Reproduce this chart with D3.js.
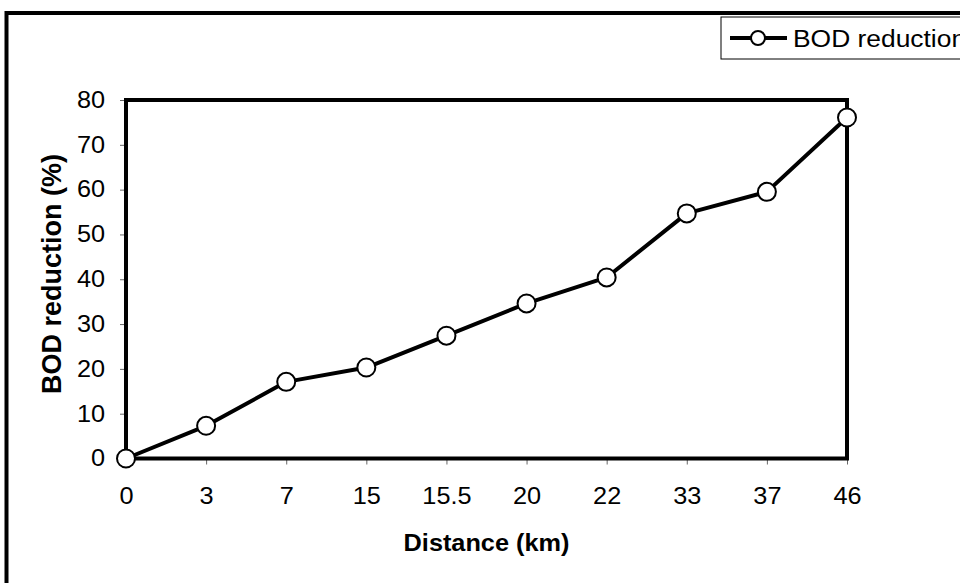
<!DOCTYPE html>
<html>
<head>
<meta charset="utf-8">
<script src="https://cdn.jsdelivr.net/npm/d3@7"></script>
<style>
  html, body { margin: 0; padding: 0; background: #fff; }
  svg { display: block; font-family: "Liberation Sans", Arial, sans-serif; }
</style>
</head>
<body>
<svg id="chart" width="960" height="583"></svg>
<script>
const categories = ["0", "3", "7", "15", "15.5", "20", "22", "33", "37", "46"];
const bodReduction = [0, 7.3, 17.1, 20.3, 27.4, 34.6, 40.4, 54.7, 59.5, 76.1];
const yTicks = [0, 10, 20, 30, 40, 50, 60, 70, 80];
const seriesName = "BOD reduction";
const xTitle = "Distance (km)";
const yTitle = "BOD reduction (%)";

const svg = d3.select("#chart");
const W = 960, H = 583;
const plot = { left: 126, right: 847, top: 100, bottom: 458.5 };
const SX = 1.1; // horizontal stretch of the text, as in the original export

svg.append("rect").attr("width", W).attr("height", H).attr("fill", "#fff");

// outer frame (extends past canvas on right/bottom)
svg.append("rect")
  .attr("x", 6.5).attr("y", 13)
  .attr("width", 1100).attr("height", 1100)
  .attr("fill", "none").attr("stroke", "#000").attr("stroke-width", 4);

const x = d3.scalePoint().domain(categories).range([plot.left, plot.right]).padding(0);
const y = d3.scaleLinear().domain([0, 80]).range([plot.bottom, plot.top]);

// axes
const xAxis = d3.axisBottom(x).tickSizeInner(6).tickSizeOuter(0).tickPadding(23);
const gx = svg.append("g").attr("transform", `translate(0,${plot.bottom})`).call(xAxis);
gx.select(".domain").remove();
gx.selectAll(".tick line").attr("stroke", "#666").attr("stroke-width", 1);
gx.selectAll(".tick text").attr("font-size", 23).attr("fill", "#000")
  .attr("transform", `scale(${SX},1)`);

const yAxis = d3.axisLeft(y).tickValues(yTicks).tickSizeInner(6).tickSizeOuter(0).tickPadding(15);
const gy = svg.append("g").attr("transform", `translate(${plot.left},0)`).call(yAxis);
gy.select(".domain").remove();
gy.selectAll(".tick line").attr("stroke", "#666").attr("stroke-width", 1);
gy.selectAll(".tick text").attr("font-size", 23).attr("fill", "#000")
  .attr("x", -21 / SX).attr("transform", `scale(${SX},1)`);

// plot frame
svg.append("rect")
  .attr("x", plot.left).attr("y", plot.top)
  .attr("width", plot.right - plot.left).attr("height", plot.bottom - plot.top)
  .attr("fill", "none").attr("stroke", "#000").attr("stroke-width", 4);

// line
const data = categories.map((c, i) => ({ c, v: bodReduction[i] }));
svg.append("path")
  .datum(data)
  .attr("fill", "none").attr("stroke", "#000").attr("stroke-width", 4)
  .attr("stroke-linejoin", "round")
  .attr("d", d3.line().x(d => x(d.c)).y(d => y(d.v)));

svg.append("g").selectAll("circle").data(data).join("circle")
  .attr("cx", d => x(d.c)).attr("cy", d => y(d.v)).attr("r", 9)
  .attr("fill", "#fff").attr("stroke", "#000").attr("stroke-width", 2);

// axis titles
svg.append("text")
  .attr("transform", `translate(${(plot.left + plot.right) / 2},${543}) scale(${SX},1)`)
  .attr("text-anchor", "middle").attr("dominant-baseline", "central")
  .attr("font-size", 23).attr("font-weight", "bold")
  .text(xTitle);

svg.append("text")
  .attr("transform", `translate(61,274) rotate(-90)`)
  .attr("text-anchor", "middle")
  .attr("font-size", 27).attr("font-weight", "bold")
  .text(yTitle);

// legend
const lg = svg.append("g");
lg.append("rect").attr("x", 721).attr("y", 17).attr("width", 300).attr("height", 42)
  .attr("fill", "#fff").attr("stroke", "#000").attr("stroke-width", 1);
lg.append("line").attr("x1", 730).attr("x2", 787).attr("y1", 38).attr("y2", 38)
  .attr("stroke", "#000").attr("stroke-width", 4);
lg.append("circle").attr("cx", 758).attr("cy", 38).attr("r", 7)
  .attr("fill", "#fff").attr("stroke", "#000").attr("stroke-width", 2);
lg.append("text")
  .attr("transform", `translate(793,38) scale(${SX},1)`)
  .attr("dominant-baseline", "central")
  .attr("font-size", 24).text(seriesName);
</script>
</body>
</html>
